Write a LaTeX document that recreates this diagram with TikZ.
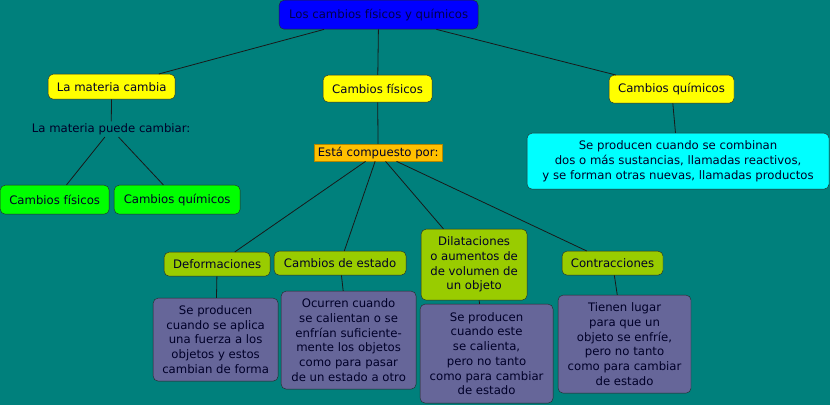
\documentclass[tikz,border=0pt]{standalone}
\usepackage{fontspec}
\setmainfont{DejaVu Sans}
\usepackage{xcolor}
\definecolor{fondo}{RGB}{0,128,124}
\definecolor{azul}{RGB}{0,0,255}
\definecolor{amarillo}{RGB}{255,255,0}
\definecolor{verde}{RGB}{0,255,0}
\definecolor{oliva}{RGB}{153,204,0}
\definecolor{morado}{RGB}{102,102,153}
\definecolor{celeste}{RGB}{0,255,255}
\definecolor{naranja}{RGB}{255,192,0}
\definecolor{tinta}{RGB}{0,0,40}

\tikzset{
  caja/.style={draw=black!85,rounded corners=5pt,align=center,inner sep=2pt,text=tinta,
    font=\fontsize{11.7}{14.7}\selectfont},
  titulo/.style={caja,fill=azul,text=black!70!blue},
  tema/.style={caja,fill=amarillo},
  hoja/.style={caja,fill=verde},
  rama/.style={caja,fill=oliva},
  nota/.style={caja,fill=morado},
  conector/.style={draw=black!90,line width=0.8pt}
}

\begin{document}
\begin{tikzpicture}[x=1pt,y=-1pt]
    \fill[fondo] (0,0) rectangle (830,405);
    \node[titulo,minimum width=199pt,minimum height=29pt] (T) at (378.5,14.5) {Los cambios físicos y químicos};
    \node[tema,minimum width=127pt,minimum height=25pt] (M) at (111.5,86.5) {La materia cambia};
    \node[tema,minimum width=109pt,minimum height=27pt] (F) at (377.5,88.5) {Cambios físicos};
    \node[tema,minimum width=125pt,minimum height=28pt] (Q) at (671.5,89) {Cambios químicos};
    \node[text=tinta,font=\fontsize{11.7}{14}\selectfont,inner sep=2pt] (P) at (111,129) {La materia puede cambiar:};
    \node[hoja,minimum width=109pt,minimum height=29pt] (HF) at (54.5,199.5) {Cambios físicos};
    \node[hoja,minimum width=126pt,minimum height=29pt] (HQ) at (177,199.5) {Cambios químicos};
    \node[fill=naranja,draw=naranja!70!black,text=tinta,font=\fontsize{11.7}{14}\selectfont,
      minimum width=128pt,minimum height=17pt,inner sep=1pt] (C) at (378,152.5) {Está compuesto por:};
    \node[caja,fill=celeste,minimum width=302pt,minimum height=56pt] (QD) at (678,161)
      {Se producen cuando se combinan\\dos o más sustancias, llamadas reactivos,\\y se forman otras nuevas, llamadas productos};
    \node[rama,minimum width=106pt,minimum height=24pt] (R1) at (217,264) {Deformaciones};
    \node[rama,minimum width=132pt,minimum height=24pt] (R2) at (340,263) {Cambios de estado};
    \node[rama,minimum width=106pt,minimum height=71pt] (R3) at (474,264.5)
      {Dilataciones\\o aumentos de\\de volumen de\\un objeto};
    \node[rama,minimum width=101pt,minimum height=24pt] (R4) at (612.5,263) {Contracciones};
    \node[nota,minimum width=125pt,minimum height=83pt] (N1) at (215.5,339.5)
      {Se producen\\cuando se aplica\\una fuerza a los\\objetos y estos\\cambian de forma};
    \node[nota,minimum width=135pt,minimum height=98pt] (N2) at (348.5,340)
      {Ocurren cuando\\se calientan o se\\enfrían suficiente-\\mente los objetos\\como para pasar\\de un estado a otro};
    \node[nota,minimum width=133pt,minimum height=99pt] (N3) at (486.5,353.5)
      {Se producen\\cuando este\\se calienta,\\pero no tanto\\como para cambiar\\de estado};
    \node[nota,minimum width=133pt,minimum height=98pt] (N4) at (624.5,344)
      {Tienen lugar\\para que un\\objeto se enfríe,\\pero no tanto\\como para cambiar\\de estado};
    % conectores
    \draw[conector] (T) -- (M);
    \draw[conector] (T) -- (F);
    \draw[conector] (T) -- (Q);
    \draw[conector] (M) -- (P);
    \draw[conector] (P) -- (HF);
    \draw[conector] (P) -- (HQ);
    \draw[conector] (F) -- (C);
    \draw[conector] (Q) -- (QD);
    \draw[conector] (C) -- (R1);
    \draw[conector] (C) -- (R2);
    \draw[conector] (C) -- (R3);
    \draw[conector] (C) -- (R4);
    \draw[conector] (R1) -- (N1);
    \draw[conector] (R2) -- (N2);
    \draw[conector] (R3) -- (N3);
    \draw[conector] (R4) -- (N4);
\end{tikzpicture}
\end{document}
